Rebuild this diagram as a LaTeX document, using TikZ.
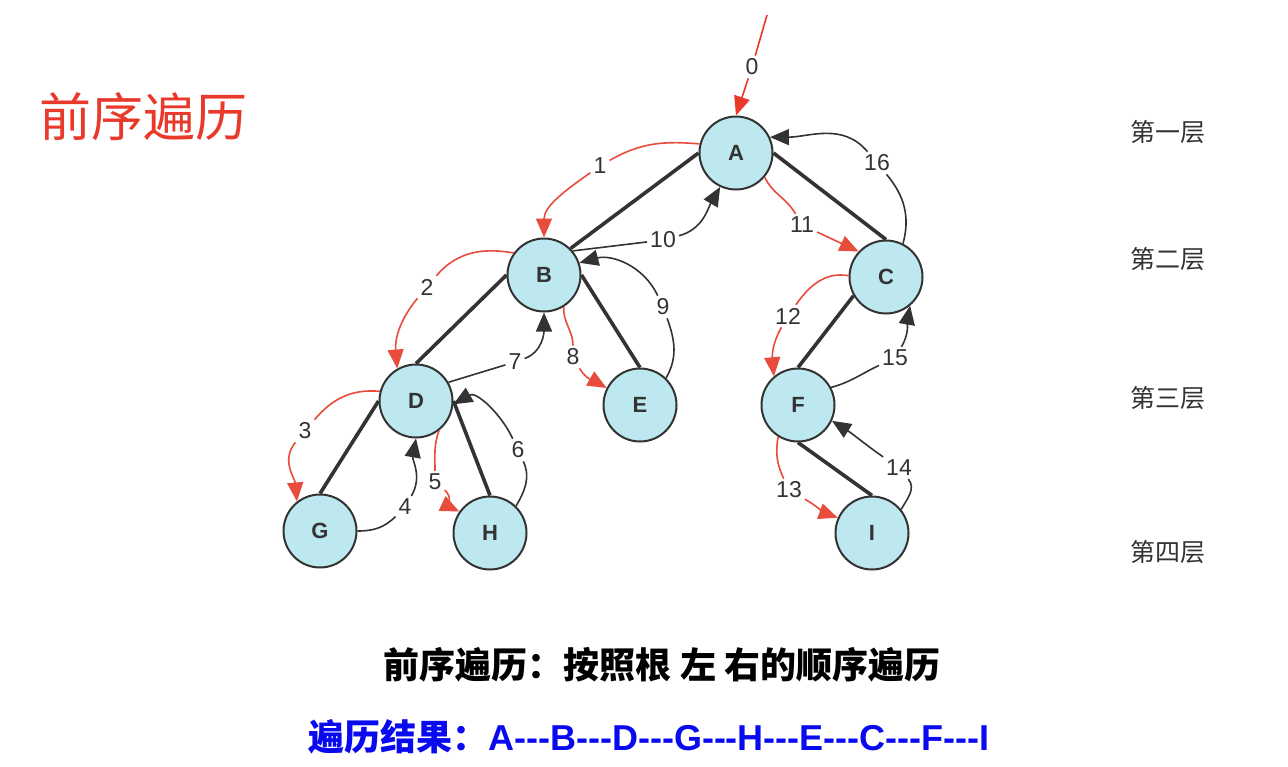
\documentclass[tikz,border=0pt]{standalone}
\usepackage{fontspec}
\usetikzlibrary{arrows.meta}
\newfontfamily\lat{Liberation Sans}
\newfontfamily\cjk{Noto Sans CJK SC}
\newcommand\dsh{\mbox{-}\mbox{-}\mbox{-}}
\definecolor{nodefill}{HTML}{BEE8EF}
\definecolor{dk}{HTML}{333333}
\definecolor{redc}{HTML}{E74C3C}
\definecolor{titlered}{HTML}{E8392B}
\definecolor{bluec}{HTML}{0A0AF0}
\begin{document}
\begin{tikzpicture}[x=1pt,y=1pt,
  tn/.style={circle, draw=dk, line width=2pt, fill=nodefill, minimum size=73pt, inner sep=0pt,
    font=\lat\fontsize{22}{24}\selectfont\bfseries, text=dk},
  tree/.style={draw=dk, line width=3.6pt},
  redarr/.style={draw=redc, line width=1.6pt, -{Triangle[length=19pt,width=16pt]}},
  blkarr/.style={draw=dk, line width=1.6pt, -{Triangle[length=19pt,width=16pt]}},
  lab/.style={font=\lat\fontsize{23}{25}\selectfont, text=dk, inner sep=3pt},
  layer/.style={font=\cjk\fontsize{25}{27}\selectfont, text=dk}
]
\useasboundingbox (0,0) rectangle (1288,-766);
\fill[white] (0,0) rectangle (1288,-766);

% tree nodes
\node[tn] (A) at (736,-153) {A};
\node[tn] (B) at (544,-275) {B};
\node[tn] (C) at (886,-277) {C};
\node[tn] (D) at (416,-401) {D};
\node[tn] (E) at (640,-405) {E};
\node[tn] (F) at (798,-405) {F};
\node[tn] (G) at (320,-531) {G};
\node[tn] (H) at (490,-533) {H};
\node[tn] (I) at (872,-533) {I};

% tree edges
\draw[tree] (A.west) -- (B.north east);
\draw[tree] (A.east) -- (C.north);
\draw[tree] (B.west) -- (D.north);
\draw[tree] (B.east) -- (E.north);
\draw[tree] (D.west) -- (G.north);
\draw[tree] (D.east) -- (H.north);
\draw[tree] (C.210) -- (F.north);
\draw[tree] (F.south) -- (I.north);

% step labels
\coordinate (s0) at (767,-15);
\node[lab] (l0) at (752,-67) {0};
\node[lab] (l1) at (600,-166) {1};
\node[lab] (l2) at (427,-287) {2};
\node[lab] (l3) at (305,-431) {3};
\node[lab] (l4) at (405,-507) {4};
\node[lab] (l5) at (435,-482) {5};
\node[lab] (l6) at (518,-450) {6};
\node[lab] (l7) at (515,-362) {7};
\node[lab] (l8) at (573,-357) {8};
\node[lab] (l9) at (663,-307) {9};
\node[lab] (l10) at (663,-240) {10};
\node[lab] (l11) at (802,-225) {11};
\node[lab] (l12) at (788,-316) {12};
\node[lab] (l13) at (789,-490) {13};
\node[lab] (l14) at (899,-468) {14};
\node[lab] (l15) at (895,-358) {15};
\node[lab] (l16) at (877,-163) {16};

% traversal arrows
\draw[redarr, draw=titlered] (s0) -- (l0) -- (A.north);
\draw[redarr] (A.166) to[out=175,in=30] (l1) to[out=215,in=90] (B.north);
\draw[redarr] (B.144) to[out=170,in=50] (l2) to[out=230,in=95] (D.120);
\draw[redarr] (D.165) to[out=175,in=50] (l3) to[out=230,in=95] (G.128);
\draw[blkarr] (G.east) to[out=0,in=225] (l4) to[out=60,in=-100] (D.south);
\draw[redarr] (D.-52) to[out=-110,in=90] (l5) to[out=-40,in=155] (H.145);
\draw[blkarr] (H.46) to[out=60,in=-65] (l6) to[out=115,in=30] (D.-5);
\draw[blkarr] (D.30) -- (l7) to[out=20,in=-90] (B.south);
\draw[redarr] (B.-58) to[out=-95,in=90] (l8) to[out=-60,in=150] (E.153);
\draw[blkarr] (E.46) to[out=60,in=-70] (l9) to[out=115,in=15] (B.19);
\draw[blkarr] (B.40) -- (l10) to[out=15,in=240] (A.245);
\draw[redarr] (A.-40) to[out=-65,in=120] (l11) to[out=-25,in=155] (C.137);
\draw[redarr] (C.178) to[out=170,in=55] (l12) to[out=240,in=95] (F.130);
\draw[redarr] (F.238) to[out=-100,in=115] (l13) to[out=-30,in=160] (I.156);
\draw[blkarr] (I.39) to[out=60,in=-50] (l14) to[out=145,in=-32] (F.-25);
\draw[blkarr] (F.28) to[out=15,in=205] (l15) to[out=60,in=-100] (C.-50);
\draw[blkarr] (C.63) to[out=75,in=-50] (l16) to[out=130,in=0] (A.25);

% texts
\node[font=\cjk\fontsize{52}{56}\selectfont, text=titlered] (title) at (143,-117) {前序遍历};
\node[layer] (y1) at (1168,-132) {第一层};
\node[layer] (y2) at (1168,-259) {第二层};
\node[layer] (y3) at (1168,-398) {第三层};
\node[layer] (y4) at (1168,-552) {第四层};
\node[font=\cjk\bfseries\fontsize{36}{40}\selectfont, text=black] (d1) at (662,-665) {前序遍历：按照根 左 右的顺序遍历};
\node[font=\bfseries\fontsize{36}{40}\selectfont, text=bluec] (d2) at (649,-737) {{\cjk\bfseries 遍历结果：}{\lat\bfseries A\dsh B\dsh D\dsh G\dsh H\dsh E\dsh C\dsh F\dsh I}};
\end{tikzpicture}
\end{document}
